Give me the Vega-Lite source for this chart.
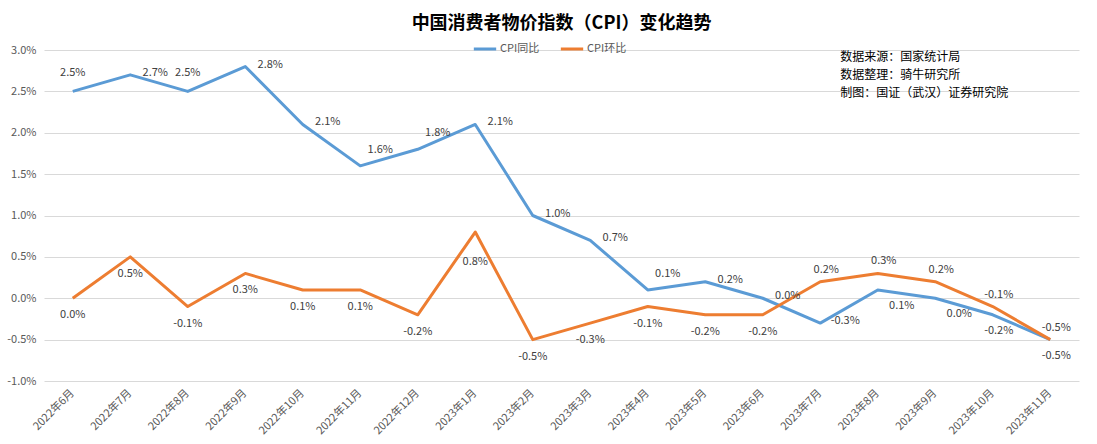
{
  "$schema": "https://vega.github.io/schema/vega-lite/v6.json",
  "width": 1097,
  "height": 444,
  "autosize": {"type": "fit", "contains": "padding"},
  "padding": {"left": 6, "top": 15, "right": 18, "bottom": 8},
  "background": "white",
  "title": {
    "text": "中国消费者物价指数（CPI）变化趋势",
    "font": "Noto Sans CJK SC",
    "fontSize": 18,
    "fontWeight": "bold",
    "color": "#000000",
    "anchor": "middle",
    "offset": 11
  },
  "config": {
    "view": {"stroke": null},
    "font": "Noto Sans CJK SC",
    "axis": {"labelColor": "#595959", "labelFontSize": 11, "labelFont": "Noto Sans CJK SC"}
  },
  "data": {
    "values": [
      {"month": "2022年6月", "series": "CPI同比", "value": 0.025},
      {"month": "2022年7月", "series": "CPI同比", "value": 0.027},
      {"month": "2022年8月", "series": "CPI同比", "value": 0.025},
      {"month": "2022年9月", "series": "CPI同比", "value": 0.028},
      {"month": "2022年10月", "series": "CPI同比", "value": 0.021},
      {"month": "2022年11月", "series": "CPI同比", "value": 0.016},
      {"month": "2022年12月", "series": "CPI同比", "value": 0.018},
      {"month": "2023年1月", "series": "CPI同比", "value": 0.021},
      {"month": "2023年2月", "series": "CPI同比", "value": 0.010},
      {"month": "2023年3月", "series": "CPI同比", "value": 0.007},
      {"month": "2023年4月", "series": "CPI同比", "value": 0.001},
      {"month": "2023年5月", "series": "CPI同比", "value": 0.002},
      {"month": "2023年6月", "series": "CPI同比", "value": 0.000},
      {"month": "2023年7月", "series": "CPI同比", "value": -0.003},
      {"month": "2023年8月", "series": "CPI同比", "value": 0.001},
      {"month": "2023年9月", "series": "CPI同比", "value": 0.000},
      {"month": "2023年10月", "series": "CPI同比", "value": -0.002},
      {"month": "2023年11月", "series": "CPI同比", "value": -0.005},
      {"month": "2022年6月", "series": "CPI环比", "value": 0.000},
      {"month": "2022年7月", "series": "CPI环比", "value": 0.005},
      {"month": "2022年8月", "series": "CPI环比", "value": -0.001},
      {"month": "2022年9月", "series": "CPI环比", "value": 0.003},
      {"month": "2022年10月", "series": "CPI环比", "value": 0.001},
      {"month": "2022年11月", "series": "CPI环比", "value": 0.001},
      {"month": "2022年12月", "series": "CPI环比", "value": -0.002},
      {"month": "2023年1月", "series": "CPI环比", "value": 0.008},
      {"month": "2023年2月", "series": "CPI环比", "value": -0.005},
      {"month": "2023年3月", "series": "CPI环比", "value": -0.003},
      {"month": "2023年4月", "series": "CPI环比", "value": -0.001},
      {"month": "2023年5月", "series": "CPI环比", "value": -0.002},
      {"month": "2023年6月", "series": "CPI环比", "value": -0.002},
      {"month": "2023年7月", "series": "CPI环比", "value": 0.002},
      {"month": "2023年8月", "series": "CPI环比", "value": 0.003},
      {"month": "2023年9月", "series": "CPI环比", "value": 0.002},
      {"month": "2023年10月", "series": "CPI环比", "value": -0.001},
      {"month": "2023年11月", "series": "CPI环比", "value": -0.005}
    ]
  },
  "transform": [
    {"calculate": "replace(format(datum.value, '.1%'), '−', '-')", "as": "label"}
  ],
  "encoding": {
    "x": {
      "field": "month",
      "type": "ordinal",
      "sort": null,
      "scale": {"type": "band", "paddingInner": 0, "paddingOuter": 0},
      "axis": {
        "title": null,
        "labelAngle": -45,
        "labelAlign": "right",
        "labelBaseline": "middle",
        "domain": false,
        "ticks": false,
        "labelPadding": 10
      }
    },
    "y": {
      "field": "value",
      "type": "quantitative",
      "scale": {"domain": [-0.01, 0.03], "nice": false},
      "axis": {
        "title": null,
        "format": ".1%",
        "labelExpr": "replace(datum.label, '−', '-')",
        "values": [-0.01, -0.005, 0, 0.005, 0.01, 0.015, 0.02, 0.025, 0.03],
        "domain": false,
        "ticks": false,
        "gridColor": "#D9D9D9",
        "labelPadding": 8
      }
    }
  },
  "layer": [
    {
      "mark": {"type": "line", "strokeWidth": 3, "strokeJoin": "round"},
      "encoding": {
        "color": {
          "field": "series",
          "type": "nominal",
          "scale": {"domain": ["CPI同比", "CPI环比"], "range": ["#5B9BD5", "#ED7D31"]},
          "legend": {
            "title": null,
            "orient": "none",
            "direction": "horizontal",
            "legendX": 428,
            "legendY": -14,
            "symbolType": "stroke",
            "symbolSize": 500,
            "symbolStrokeWidth": 3,
            "labelColor": "#595959",
            "labelFontSize": 11,
            "columnPadding": 14,
            "labelOffset": 2
          }
        }
      }
    },
    {
      "transform": [{"filter": "datum.series === 'CPI同比' && indexof(['2022年6月','2022年8月'], datum.month) >= 0"}],
      "mark": {"type": "text", "align": "center", "baseline": "middle", "dy": -18, "fontSize": 11, "color": "#404040"},
      "encoding": {"text": {"field": "label", "type": "nominal"}}
    },
    {
      "transform": [{"filter": "datum.series === 'CPI同比' && indexof(['2022年11月','2022年12月','2023年4月'], datum.month) >= 0"}],
      "mark": {"type": "text", "align": "center", "baseline": "middle", "dx": 20, "dy": -16, "fontSize": 11, "color": "#404040"},
      "encoding": {"text": {"field": "label", "type": "nominal"}}
    },
    {
      "transform": [{"filter": "datum.series === 'CPI同比' && indexof(['2022年7月','2022年9月','2022年10月','2023年1月','2023年2月','2023年3月','2023年5月','2023年6月','2023年7月'], datum.month) >= 0"}],
      "mark": {"type": "text", "align": "center", "baseline": "middle", "dx": 25, "dy": -2, "fontSize": 11, "color": "#404040"},
      "encoding": {"text": {"field": "label", "type": "nominal"}}
    },
    {
      "transform": [{"filter": "datum.series === 'CPI同比' && indexof(['2023年8月','2023年9月'], datum.month) >= 0"}],
      "mark": {"type": "text", "align": "center", "baseline": "middle", "dx": 24, "dy": 16, "fontSize": 11, "color": "#404040"},
      "encoding": {"text": {"field": "label", "type": "nominal"}}
    },
    {
      "transform": [{"filter": "datum.series === 'CPI同比' && indexof(['2023年10月','2023年11月'], datum.month) >= 0"}],
      "mark": {"type": "text", "align": "center", "baseline": "middle", "dx": 6, "dy": 16, "fontSize": 11, "color": "#404040"},
      "encoding": {"text": {"field": "label", "type": "nominal"}}
    },
    {
      "transform": [{"filter": "datum.series === 'CPI环比' && indexof(['2023年1月','2023年7月','2023年8月','2023年9月','2023年10月','2023年11月'], datum.month) < 0"}],
      "mark": {"type": "text", "align": "center", "baseline": "middle", "dy": 17, "fontSize": 11, "color": "#404040"},
      "encoding": {"text": {"field": "label", "type": "nominal"}}
    },
    {
      "transform": [{"filter": "datum.series === 'CPI环比' && datum.month === '2023年1月'"}],
      "mark": {"type": "text", "align": "center", "baseline": "middle", "dy": 30, "fontSize": 11, "color": "#404040"},
      "encoding": {"text": {"field": "label", "type": "nominal"}}
    },
    {
      "transform": [{"filter": "datum.series === 'CPI环比' && indexof(['2023年7月','2023年8月','2023年9月','2023年10月','2023年11月'], datum.month) >= 0"}],
      "mark": {"type": "text", "align": "center", "baseline": "middle", "dx": 6, "dy": -12, "fontSize": 11, "color": "#404040"},
      "encoding": {"text": {"field": "label", "type": "nominal"}}
    },
    {
      "transform": [{"filter": "datum.series === 'CPI同比' && datum.month === '2023年7月'"}],
      "mark": {"type": "text", "align": "left", "baseline": "middle", "fontSize": 12, "color": "#000000", "lineHeight": 18, "dx": 20},
      "encoding": {
        "x": {"datum": "2023年7月"},
        "y": {"datum": 0.0292},
        "text": {"value": ["数据来源：国家统计局", "数据整理：骑牛研究所", "制图：国证（武汉）证券研究院"]}
      }
    }
  ]
}
